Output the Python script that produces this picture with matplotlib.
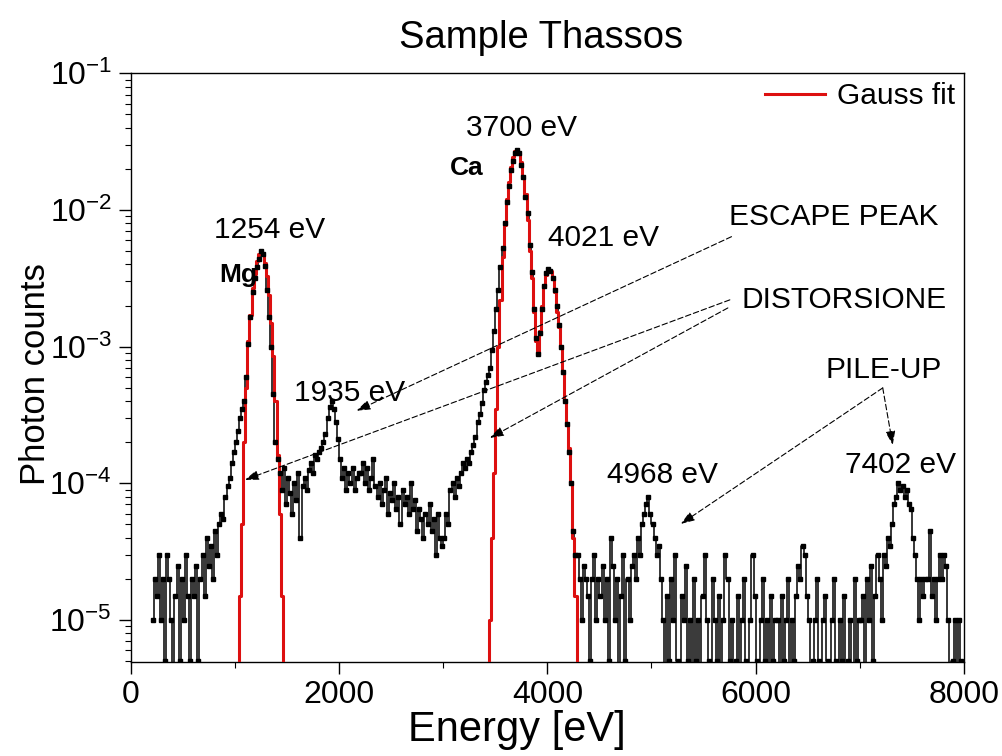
import numpy as np
import matplotlib
matplotlib.use('Agg')
import matplotlib.pyplot as plt
from matplotlib.ticker import LogLocator, NullFormatter

plt.rcParams['font.family'] = ['Liberation Sans', 'DejaVu Sans']
plt.rcParams['mathtext.default'] = 'regular'

# measured spectrum: 20 eV bins starting at 200 eV, counts in units of 5e-6
bin_first = 210
bin_width = 20
count_unit = 5e-6
counts = [
    2, 4, 3, 6, 2, 4, 1, 6, 4, 2, 0, 3, 5, 1, 4, 2, 6, 3, 1, 4,              # 200-600
    3, 5, 1, 4, 6, 3, 8, 5, 7, 4, 9, 6, 10, 12, 11, 16, 19, 22, 28, 34,      # 600-1000
    40, 48, 60, 70, 80, 120, 210, 330, 500, 640, 760, 880, 1000, 960, 780, 520, 330, 200, 90, 40,
    30, 24, 18, 26, 14, 22, 17, 12, 20, 15, 24, 8, 19, 22, 18, 25, 28, 24, 32, 30,
    34, 36, 40, 46, 60, 72, 80, 70, 56, 42, 30, 22, 26, 18, 24, 20, 26, 18, 22, 24,
    24, 28, 20, 26, 18, 22, 30, 19, 16, 20, 14, 18, 22, 12, 17, 15, 20, 13, 16, 10,
    18, 14, 16, 12, 20, 13, 15, 9, 13, 11, 8, 12, 10, 14, 9, 11, 6, 12, 8, 7,
    8, 12, 10, 18, 20, 16, 22, 19, 24, 28, 26, 30, 28, 34, 38, 44, 56, 64, 78, 96,
    110, 125, 140, 190, 260, 380, 520, 760, 1060, 1600, 2300, 3000, 3900, 4600, 5200, 5460, 5200, 4300, 3500, 2500,
    1900, 1100, 700, 380, 230, 176, 250, 380, 560, 690, 735, 720, 640, 520, 400, 290, 200, 130, 80, 54,
    34, 20, 9, 6, 6, 4, 2, 5, 4, 3, 1, 4, 6, 2, 4, 3, 5, 2, 4, 1,
    8, 5, 2, 4, 0, 3, 6, 1, 4, 2, 5, 6, 4, 8, 6, 10, 12, 14, 16, 12,
    10, 8, 6, 7, 4, 2, 0, 3, 1, 4, 2, 6, 1, 0, 3, 2, 5, 1, 2, 0,
    4, 1, 2, 0, 3, 6, 2, 1, 0, 4, 2, 1, 3, 0, 2, 6, 4, 1, 2, 0,
    1, 3, 0, 2, 4, 1, 0, 2, 6, 3, 1, 0, 2, 4, 1, 2, 0, 3, 1, 2,
    2, 0, 3, 1, 2, 4, 0, 2, 1, 3, 5, 4, 7, 6, 3, 2, 0, 1, 2, 4,
    1, 0, 2, 3, 1, 0, 2, 4, 1, 0, 2, 1, 3, 0, 1, 2, 0, 4, 1, 2,
    2, 3, 0, 4, 2, 5, 1, 3, 6, 4, 2, 6, 5, 8, 7, 10, 14, 16, 20, 18,
    19, 16, 18, 14, 13, 8, 6, 4, 2, 4, 3, 4, 4, 9, 3, 4, 2, 4, 6, 4,
    6, 5, 2, 0, 1, 2, 0, 2, 1, 0,
]

# Gauss fits (same 20 eV bins)
mg_fit_first = 1030
mg_fit = [0, 1.5e-5, 5e-5, 2e-4, 5e-4, 1.1e-3, 1.7e-3, 2.7e-3, 3.4e-3, 4.2e-3, 4.8e-3,
          5.0e-3, 4.8e-3, 4.1e-3, 3.3e-3, 2.4e-3, 1.5e-3, 8.5e-4, 4e-4, 1.6e-4, 6e-5, 1.5e-5, 0]
ca_fit_first = 3430
ca_fit = [0, 1e-5, 4e-5, 1.2e-4, 3.5e-4, 1e-3, 2.2e-3, 4.5e-3, 7.8e-3, 1.2e-2,
          1.6e-2, 2.05e-2, 2.45e-2, 2.68e-2, 2.73e-2, 2.6e-2, 2.25e-2, 1.75e-2, 1.3e-2, 8.5e-3,
          5e-3, 3.2e-3, 1.8e-3, 1.1e-3, 8.8e-4, 1.3e-3, 2e-3, 2.8e-3, 3.35e-3, 3.65e-3,
          3.6e-3, 3.2e-3, 2.5e-3, 1.8e-3, 1.4e-3, 1e-3, 6.5e-4, 4e-4, 2.7e-4, 1.8e-4,
          1e-4, 4e-5, 1.5e-5, 0]

x_ticks = [0, 2000, 4000, 6000, 8000]
x_minor = [1000, 3000, 5000, 7000]
y_ticks = [1e-5, 1e-4, 1e-3, 1e-2, 1e-1]
y_tick_labels = ['$10^{-5}$', '$10^{-4}$', '$10^{-3}$', '$10^{-2}$', '$10^{-1}$']

# (text, energy, counts, bold)
labels = [
    ('1254 eV', 1337, 7.15e-3, False),
    ('Mg', 1030, 3.34e-3, True),
    ('1935 eV', 2104, 4.6e-4, False),
    ('3700 eV', 3755, 3.98e-2, False),
    ('Ca', 3227, 2.03e-2, True),
    ('4021 eV', 4543, 6.24e-3, False),
    ('ESCAPE PEAK', 6745, 8.9e-3, False),
    ('DISTORSIONE', 6845, 2.19e-3, False),
    ('PILE-UP', 7230, 6.76e-4, False),
    ('4968 eV', 5105, 1.15e-4, False),
    ('7402 eV', 7390, 1.37e-4, False),
]

# dashed arrows: (start, tip)
arrows = [
    ((5768, 6.38e-3), (2169, 3.40e-4)),
    ((5752, 2.2e-3), (1097, 1.06e-4)),
    ((5733, 1.92e-3), (3449, 2.15e-4)),
    ((7220, 4.99e-4), (5282, 5.05e-5)),
    ((7220, 4.99e-4), (7316, 1.91e-4)),
]

energy = bin_first + bin_width * np.arange(len(counts))
spectrum = np.array(counts) * count_unit
mg_energy = mg_fit_first + bin_width * np.arange(len(mg_fit))
ca_energy = ca_fit_first + bin_width * np.arange(len(ca_fit))

fig = plt.figure(figsize=(10.03, 7.56), dpi=100)
ax = fig.add_axes([0.1303, 0.1247, 0.8308, 0.7783])
ax.set_yscale('log', nonpositive='clip')

red = '#dd1010'
ax.step(energy, spectrum, where='mid', color='black', lw=1.1, zorder=2)
ax.step(mg_energy, mg_fit, where='mid', color=red, lw=2.2, zorder=3, label='Gauss fit')
ax.step(ca_energy, ca_fit, where='mid', color=red, lw=2.2, zorder=3)
ax.plot(energy, spectrum, 's', ms=2.6, color='black', zorder=4)

ax.set_xlim(0, 8000)
ax.set_ylim(4.95e-6, 0.1)
ax.set_xticks(x_ticks)
ax.set_xticks(x_minor, minor=True)
ax.set_yticks(y_ticks, y_tick_labels)
ax.yaxis.set_minor_locator(LogLocator(base=10, subs=np.arange(2, 10)))
ax.yaxis.set_minor_formatter(NullFormatter())
ax.tick_params(which='major', direction='out', length=8.5, width=1, labelsize=23, pad=5)
ax.tick_params(which='minor', direction='out', length=4.3, width=0.8)
for s in ax.spines.values():
    s.set_linewidth(1)

for text, x, y, bold in labels:
    ax.text(x, y, text, ha='center', va='center', fontsize=19 if bold else 21.5,
            fontweight='bold' if bold else 'normal', clip_on=False, zorder=5)

for start, tip in arrows:
    ax.annotate('', xy=tip, xytext=start,
                arrowprops=dict(arrowstyle='-|>,head_length=0.7,head_width=0.25',
                                color='black', lw=0.8, linestyle=(0, (5, 2.5)),
                                shrinkA=0, shrinkB=0, mutation_scale=12))

ax.legend(loc='upper right', frameon=False, fontsize=21.5, handlelength=2,
          handletextpad=0.4, borderaxespad=0.1, borderpad=0.2)

fig.text(541 / 1003, 1 - 38 / 756, 'Sample Thassos', ha='center', va='center', fontsize=27.5)
ax.set_xlabel('Energy [eV]', fontsize=30)
ax.xaxis.set_label_coords(0.4636, -0.082)
ax.set_ylabel('Photon counts', fontsize=25)
ax.yaxis.set_label_coords(-0.094, 0.489)

fig.savefig('out.png', dpi=100)
